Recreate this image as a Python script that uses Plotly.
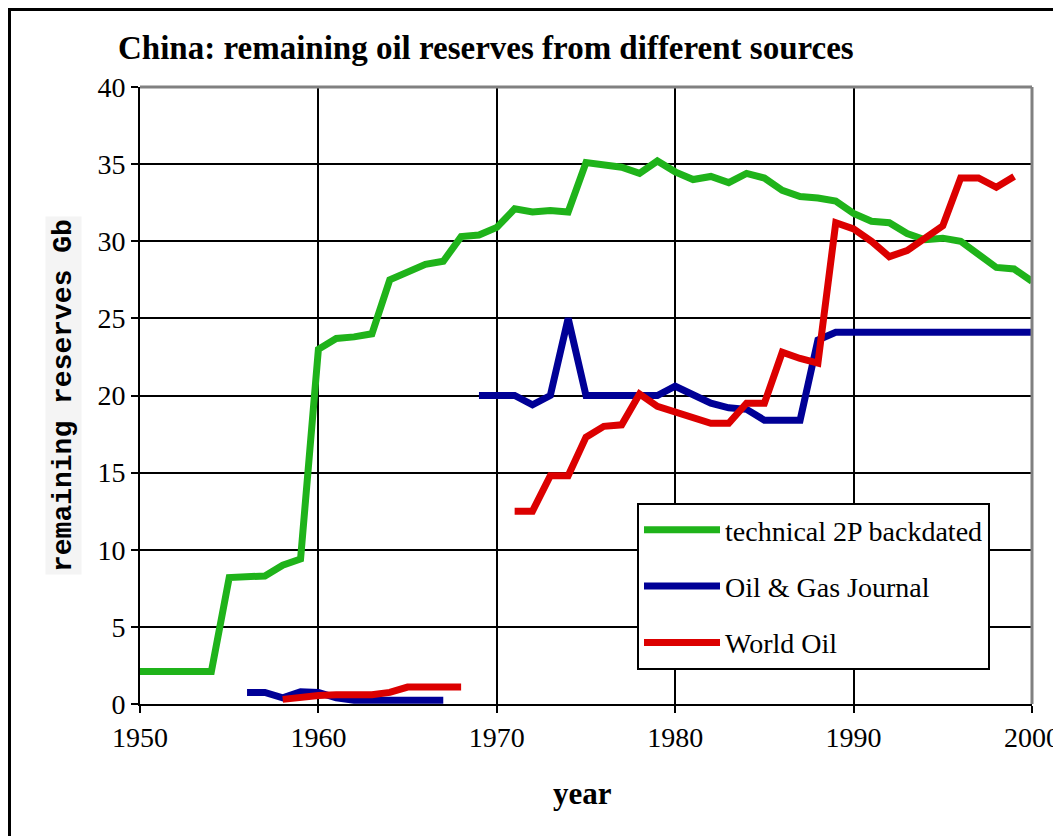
import plotly.graph_objects as go

# ---- data ----
tech_years = list(range(1950, 2001))
tech_2p = [2.1, 2.1, 2.1, 2.1, 2.1, 8.2, 8.3, 8.3, 9.0, 9.4,
           23.0, 23.7, 23.8, 24.0, 27.5, 28.0, 28.5, 28.7, 30.3, 30.4,
           30.9, 32.1, 31.9, 32.0, 31.9, 35.1, 34.9, 34.8, 34.4, 35.2,
           34.5, 34.0, 34.2, 33.8, 34.4, 34.1, 33.3, 32.9, 32.8, 32.6,
           31.8, 31.3, 31.2, 30.5, 30.1, 30.2, 30.0, 29.2, 28.3, 28.2,
           27.4]

ogj_years = list(range(1956, 2001))
ogj = [0.75, 0.75, 0.4, 0.8, 0.75, 0.4, 0.25, 0.25, 0.25, 0.25, 0.25, 0.25,
       None,
       20.0, 20.0, 20.0, 19.4, 20.0, 25.0, 20.0, 20.0, 20.0, 20.0, 20.0,
       20.6, 20.1, 19.5, 19.2, 19.1, 18.4, 18.4, 18.4, 23.6, 24.1,
       24.1, 24.1, 24.1, 24.1, 24.1, 24.1, 24.1, 24.1, 24.1, 24.1, 24.1]

wo_years = list(range(1958, 2000))
world_oil = [0.3, 0.45, 0.55, 0.6, 0.6, 0.6, 0.75, 1.1, 1.1, 1.1, 1.1,
             None, None,
             12.5, 12.5, 14.8, 14.8, 17.3, 18.0, 18.1, 20.1, 19.3,
             18.9, 18.5, 18.2, 18.2, 19.5, 19.5, 22.8, 22.4, 22.1, 31.2,
             30.8, 30.0, 29.0, 29.4, 30.2, 31.0, 34.1, 34.1, 33.5, 34.2]

x_ticks = [1950, 1960, 1970, 1980, 1990, 2000]
y_ticks = [0, 5, 10, 15, 20, 25, 30, 35, 40]

series_names = ["technical 2P backdated", "Oil & Gas Journal", "World Oil"]
series_colors = ["#1fb31a", "#000096", "#dc0000"]

SERIF = "Liberation Serif, Times New Roman, serif"

fig = go.Figure()
for name, xs, ys, col in zip(series_names,
                             [tech_years, ogj_years, wo_years],
                             [tech_2p, ogj, world_oil],
                             series_colors):
    fig.add_trace(go.Scatter(
        x=xs, y=ys, name=name, mode="lines",
        line=dict(color=col, width=7),
        connectgaps=False, legendgroup=name,
    ))

W, H = 1061, 836
OFF = 8  # page body margin
L, R, T, B = 140, 1032, 87, 704  # target plot-area pixels in the window
pw, ph = R - L, B - T


def px_x(p):
    return (p - L) / pw


def px_y(p):
    return (B - p) / ph


def cx(p):
    return (p - OFF) / W


def cy(p):
    return 1 - (p - OFF) / H


axis_common = dict(
    showline=True, linecolor="black", linewidth=2,
    showgrid=True, gridcolor="black", gridwidth=2,
    ticks="outside", ticklen=7, tickwidth=2, tickcolor="black",
    tickfont=dict(family=SERIF, size=28, color="black"),
    zeroline=False, automargin=False,
)

fig.update_layout(
    template="none",
    width=W, height=H,
    margin=dict(l=L - OFF, r=W - (R - OFF), t=T - OFF, b=H - (B - OFF)),
    paper_bgcolor="white", plot_bgcolor="white",
    showlegend=True,
    legend=dict(
        x=px_x(637), y=px_y(503), xanchor="left", yanchor="top",
        bgcolor="white", bordercolor="black", borderwidth=2,
        font=dict(family=SERIF, size=28, color="black"),
        tracegroupgap=17, itemwidth=76,
    ),
    xaxis=dict(range=[1950, 2000], tickvals=x_ticks, **axis_common),
    yaxis=dict(range=[0, 40], tickvals=y_ticks, **axis_common),
    title=dict(
        text="<b>China: remaining oil reserves from different sources</b>",
        font=dict(family=SERIF, size=33, color="black"),
        x=cx(118), xanchor="left", xref="container",
        y=cy(47), yanchor="middle", yref="container",
    ),
)

fig.add_annotation(
    text="<b>year</b>", xref="paper", yref="paper",
    x=px_x(582), y=px_y(793), xanchor="center", yanchor="middle",
    showarrow=False, font=dict(family=SERIF, size=31, color="black"),
)
fig.add_annotation(
    text="<b>remaining reserves Gb</b>", xref="paper", yref="paper",
    x=px_x(63), y=px_y(396), xanchor="center", yanchor="middle",
    textangle=-90, showarrow=False, bgcolor="#f4f4f4", borderpad=2,
    font=dict(family="Liberation Mono, Courier New, monospace", size=28, color="black"),
)

# plot-area border (gray, top and right)
fig.add_shape(type="line", xref="paper", yref="paper", x0=0, x1=1, y0=1, y1=1,
              line=dict(color="#808080", width=3), layer="above")
fig.add_shape(type="line", xref="paper", yref="paper", x0=1, x1=1, y0=0, y1=1,
              line=dict(color="#808080", width=3), layer="above")
# outer chart border
fig.add_shape(type="rect", xref="paper", yref="paper",
              x0=px_x(9.5), x1=px_x(W + 30), y0=px_y(H + 30), y1=px_y(9.5),
              line=dict(color="black", width=3), fillcolor="rgba(0,0,0,0)",
              layer="below")

fig.write_html("out.html")
